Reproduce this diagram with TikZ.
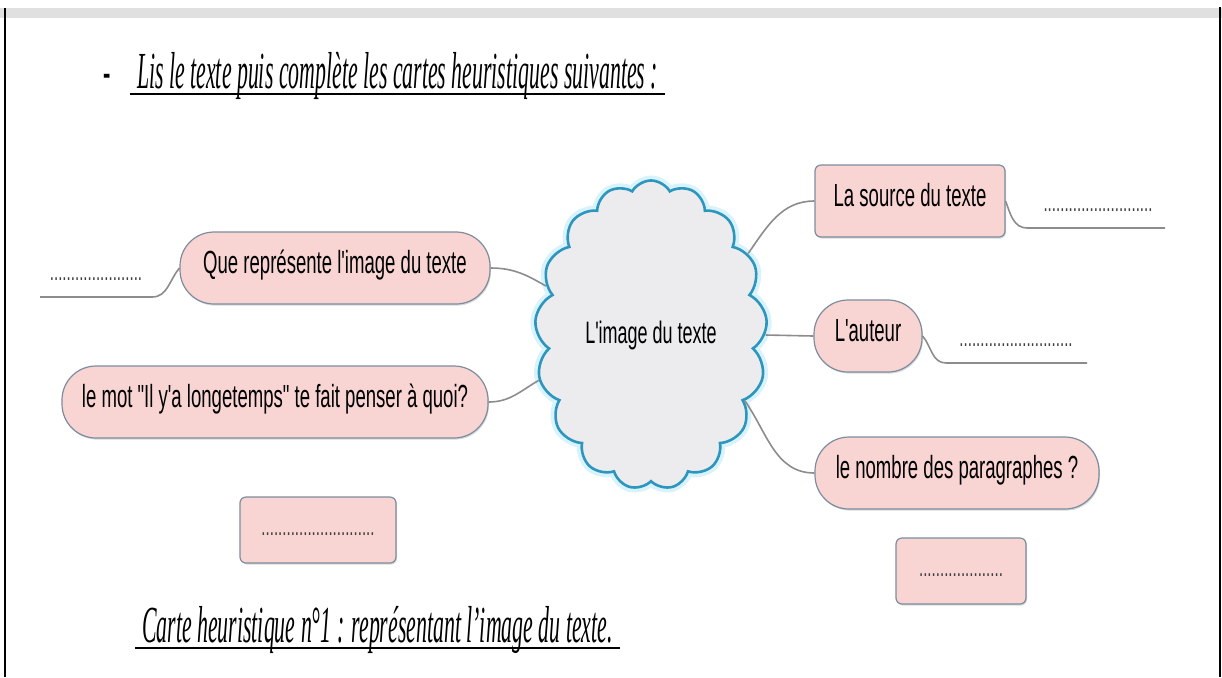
\documentclass[tikz,border=0pt]{standalone}
\usepackage{fontspec}
\usepackage{tikz}
\usetikzlibrary{positioning, shapes.symbols, shadows, calc}
\newfontfamily\boxfont[FakeStretch=0.58]{Liberation Sans}
\newfontfamily\titlefont[FakeStretch=0.42]{Liberation Serif}
\definecolor{boxpink}{RGB}{248,212,210}
\definecolor{boxline}{RGB}{125,140,158}
\definecolor{cloudline}{RGB}{45,150,190}
\definecolor{cloudfill}{RGB}{236,236,238}
\definecolor{linkgray}{RGB}{140,140,140}
\tikzset{
  topic/.style={draw=boxline, fill=boxpink, line width=0.6pt, rounded corners=17pt,
    minimum height=36pt, font=\boxfont\fontsize{16}{19}\selectfont,
    text height=1.6ex, text depth=.4ex,
    drop shadow={shadow xshift=0.5pt, shadow yshift=-0.8pt, opacity=0.3}},
  topicbox/.style={topic, rounded corners=3pt},
  link/.style={linkgray, line width=0.8pt},
  blank/.style={font=\boxfont\fontsize{13}{15}\selectfont, text=black!75},
  titre/.style={font=\titlefont\itshape\fontsize{26}{30}\selectfont}
}

\begin{document}
\begin{tikzpicture}[x=0.5pt, y=-0.5pt]
    \useasboundingbox (0,0) rectangle (1222,677);
    % page frame
    \fill[black!12] (0,8) rectangle (1222,18);
    \draw[line width=1.2pt] (5,8) -- (5,677);
    \draw[line width=1.2pt] (1220,7) -- (1220,677);
    % consigne
    \node[titre, anchor=base west] (consigne) at (130,88) {Lis le texte puis complète les cartes heuristiques suivantes :};
    \node[titre, anchor=base east] (tiret) at (118,88) {-};
    \draw[line width=1.3pt] ($(consigne.base west)+(0,6)$) -- ($(consigne.base east)+(0,6)$);
    % central cloud
    \node[cloud, cloud puffs=17, cloud puff arc=120, aspect=0.7, draw=cloudline, fill=cloudfill,
      line width=1.3pt, minimum width=92pt, minimum height=132pt,
      preaction={draw=cyan!15, line width=5pt},
      font=\boxfont\fontsize{15.5}{18}\selectfont] (idee) at (651,335) {L'image du texte};
    % topics
    \node[topicbox, minimum width=95pt] (source) at (910,201) {La source du texte};
    \node[topic, minimum width=155pt] (quoi) at (335,268) {Que représente l'image du texte};
    \node[topic, minimum width=54pt] (auteur) at (868,336) {L'auteur};
    \node[topic, minimum width=213pt] (mot) at (275,402) {le mot "Il y'a longetemps" te fait penser à quoi?};
    \node[topic, minimum width=142pt] (nombre) at (957,473) {le nombre des paragraphes ?};
    \node[topicbox, minimum width=78pt, minimum height=33pt, blank] (vide1) at (318,530) {...........................};
    \node[topicbox, minimum width=65pt, minimum height=33pt, blank] (vide2) at (961,571) {....................};
    % links to the cloud
    \draw[link] (idee.155) to[out=150, in=0] (quoi.east);
    \draw[link] (idee.202) to[out=210, in=0] (mot.east);
    \draw[link] (idee.40) to[out=55, in=180] (source.west);
    \draw[link] (idee.0) -- (auteur.west);
    \draw[link] (idee.-35) to[out=-55, in=180] (nombre.west);
    % answer lines
    \coordinate (s1) at (1027,228); \coordinate (s2) at (1165,228);
    \draw[link] (source.east) to[out=-70, in=180] (s1) -- (s2);
    \node[blank] (rep1) at (1098,210) {..........................};
    \coordinate (a1) at (946,363); \coordinate (a2) at (1087,363);
    \draw[link] (auteur.east) to[out=-50, in=180] (a1) -- (a2);
    \node[blank] (rep2) at (1016,345) {...........................};
    \coordinate (q1) at (152,297); \coordinate (q2) at (40,297);
    \draw[link] (quoi.west) to[out=230, in=0] (q1) -- (q2);
    \node[blank] (rep3) at (96,279) {......................};
    % legend
    \node[titre, anchor=base west] (legende) at (135,642) {Carte heuristique n°1 : représentant l’image du texte.};
    \draw[line width=1.3pt] ($(legende.base west)+(0,6)$) -- ($(legende.base east)+(0,6)$);
\end{tikzpicture}
\end{document}
